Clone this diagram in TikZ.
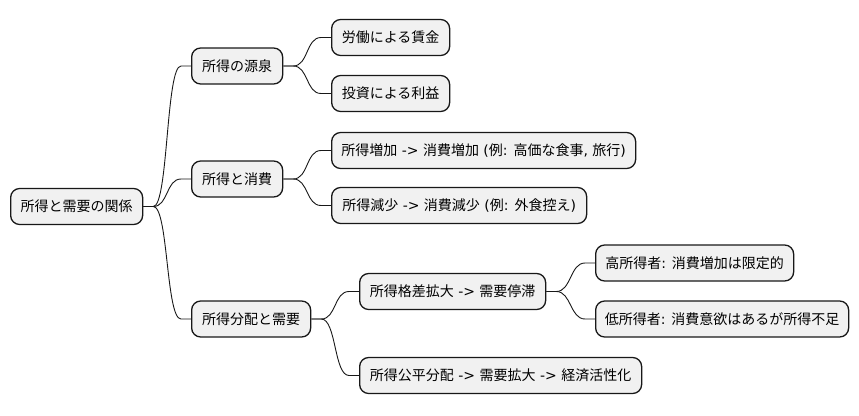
\documentclass[tikz,border=0pt]{standalone}
\usepackage{fontspec}
\setmainfont{Noto Sans CJK JP}
\newfontfamily\latfont{DejaVu Sans}
\newcommand{\la}[1]{{\latfont #1}}
\definecolor{boxfill}{HTML}{F1F1F1}
\definecolor{edgecol}{HTML}{181818}
\begin{document}
\begin{tikzpicture}[x=1pt,y=-1pt,
  mmbox/.style={draw=edgecol, line width=1.3pt, fill=boxfill, rounded corners=9pt,
    minimum height=36pt, anchor=west, inner xsep=8pt, inner ysep=0pt,
    font=\fontsize{14}{17}\selectfont},
  conn/.style={draw=edgecol, line width=0.9pt}]
\useasboundingbox (0,0) rectangle (859,415);
\node[mmbox, minimum width=132pt] (r) at (10,206.5) {所得と需要の関係};
\node[mmbox, minimum width=91pt] (a1) at (191,66) {所得の源泉};
\node[mmbox, minimum width=91pt] (a2) at (191,179) {所得と消費};
\node[mmbox, minimum width=119pt] (a3) at (191,319) {所得分配と需要};
\node[mmbox, minimum width=118pt] (b1) at (331,37.5) {労働による賃金};
\node[mmbox, minimum width=118pt] (b2) at (331,93.5) {投資による利益};
\node[mmbox, minimum width=304pt] (b3) at (331,150.5) {所得増加\la{ -> }消費増加\la{ (}例\la{: }高価な食事\la{, }旅行\la{)}};
\node[mmbox, minimum width=255pt] (b4) at (331,205.5) {所得減少\la{ -> }消費減少\la{ (}例\la{: }外食控え\la{)}};
\node[mmbox, minimum width=186pt] (b5) at (359,291.5) {所得格差拡大\la{ -> }需要停滞};
\node[mmbox, minimum width=282pt] (b6) at (359,375.5) {所得公平分配\la{ -> }需要拡大\la{ -> }経済活性化};
\node[mmbox, minimum width=198pt] (c1) at (595,263) {高所得者\la{: }消費増加は限定的};
\node[mmbox, minimum width=253pt] (c2) at (595,319) {低所得者\la{: }消費意欲はあるが所得不足};
\foreach \p/\c in {r/a1,r/a2,r/a3,a1/b1,a1/b2,a2/b3,a2/b4,a3/b5,a3/b6,b5/c1,b5/c2}{
  \draw[conn] (\p.east) -- ++(10pt,0pt) .. controls +(15pt,0pt) and ([xshift=-25pt]\c.west) .. ([xshift=-10pt]\c.west) -- (\c.west);
}
\end{tikzpicture}
\end{document}
